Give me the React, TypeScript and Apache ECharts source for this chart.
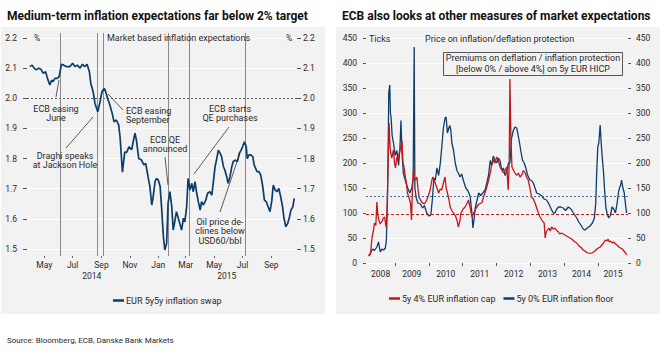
import React, { useEffect, useRef } from 'react';
import * as echarts from 'echarts';

// ---------- Left chart: EUR 5y5y inflation swap ----------
const swapDates = [
  '2014-03-31','2014-04-05','2014-04-09','2014-04-14','2014-04-19','2014-04-24','2014-04-29','2014-05-04','2014-05-08','2014-05-13','2014-05-17','2014-05-20','2014-05-24','2014-05-29','2014-06-02',
  '2014-06-07','2014-06-12','2014-06-18','2014-06-25','2014-07-01','2014-07-06','2014-07-11','2014-07-17','2014-07-22','2014-07-27','2014-08-01','2014-08-06','2014-08-09','2014-08-14','2014-08-18','2014-08-24','2014-08-29',
  '2014-09-02','2014-09-07','2014-09-10','2014-09-14','2014-09-19','2014-09-24','2014-09-28','2014-10-03','2014-10-08','2014-10-11','2014-10-16','2014-10-21','2014-10-25','2014-10-30',
  '2014-11-05','2014-11-08','2014-11-12','2014-11-15','2014-11-20','2014-11-26','2014-12-01','2014-12-05','2014-12-10','2014-12-14','2014-12-18','2014-12-21','2014-12-25','2014-12-28',
  '2015-01-01','2015-01-05','2015-01-08','2015-01-12','2015-01-15','2015-01-19','2015-01-22','2015-01-26','2015-01-30',
  '2015-02-02','2015-02-06','2015-02-09','2015-02-13','2015-02-17','2015-02-20','2015-02-24','2015-02-27',
  '2015-03-03','2015-03-06','2015-03-10','2015-03-14','2015-03-17','2015-03-21','2015-03-24','2015-03-28',
  '2015-04-01','2015-04-04','2015-04-08','2015-04-13','2015-04-17','2015-04-22','2015-04-26','2015-04-29',
  '2015-05-03','2015-05-06','2015-05-10','2015-05-14','2015-05-17','2015-05-21','2015-05-24','2015-05-28','2015-05-31',
  '2015-06-04','2015-06-08','2015-06-11','2015-06-16','2015-06-20','2015-06-24','2015-06-28',
  '2015-07-01','2015-07-05','2015-07-09','2015-07-11','2015-07-15','2015-07-19','2015-07-23','2015-07-26',
  '2015-08-01','2015-08-05','2015-08-09','2015-08-13','2015-08-17','2015-08-21','2015-08-25','2015-08-29',
  '2015-09-02','2015-09-05','2015-09-09','2015-09-13','2015-09-17','2015-09-21','2015-09-25','2015-09-28',
  '2015-10-02','2015-10-06','2015-10-10','2015-10-13','2015-10-17','2015-10-20',
];
const swapValues = [
  2.105,2.11,2.10,2.094,2.10,2.096,2.083,2.088,2.066,2.044,2.06,2.055,2.066,2.066,2.072,
  2.113,2.11,2.105,2.105,2.116,2.105,2.11,2.10,2.113,2.105,2.113,2.088,2.05,2.022,1.983,1.955,1.989,
  2.022,2.033,2.022,2.0,1.978,1.95,1.922,1.928,1.911,1.87,1.755,1.822,1.82,1.839,
  1.83,1.855,1.884,1.862,1.80,1.795,1.779,1.784,1.74,1.707,1.646,1.673,1.723,1.734,
  1.729,1.707,1.64,1.541,1.497,1.519,1.651,1.69,1.64,
  1.563,1.596,1.624,1.602,1.58,1.563,1.602,1.59,
  1.64,1.734,1.696,1.718,1.69,1.723,1.69,1.657,
  1.629,1.657,1.646,1.662,1.685,1.69,1.679,1.718,
  1.773,1.795,1.828,1.817,1.806,1.773,1.762,1.74,1.718,
  1.74,1.773,1.79,1.795,1.79,1.817,1.828,
  1.839,1.856,1.839,1.80,1.812,1.812,1.806,1.779,
  1.757,1.757,1.746,1.712,1.662,1.657,1.64,1.624,
  1.662,1.712,1.696,1.69,1.701,1.673,1.64,1.602,
  1.574,1.585,1.607,1.629,1.64,1.668,
];
const eventDates = ['2014-06-05','2014-08-22','2014-09-04','2015-01-22','2015-03-09','2015-07-06'];
const leftTicks = [1.5, 1.6, 1.7, 1.8, 1.9, 2.0, 2.1, 2.2];
const monthTicks = ['2014-05-01','2014-07-01','2014-09-01','2014-11-01','2015-01-01','2015-03-01','2015-05-01','2015-07-01','2015-09-01'];
const yearLabelDates = ['2014-08-11','2015-05-28'];
const targetLevel = 2.0;

// ---------- Right chart: cap / floor premiums (decimal year, ticks) ----------
const capSeries: [number, number][] = [
  [2008.23,14],[2008.28,18],[2008.33,52],[2008.37,65],[2008.40,80],[2008.44,75],[2008.47,122],[2008.50,95],[2008.53,86],[2008.57,78],
  [2008.62,83],[2008.66,90],[2008.70,92],[2008.74,72],[2008.77,100],[2008.80,200],[2008.83,280],[2008.86,230],[2008.88,220],[2008.91,210],
  [2008.96,226],[2008.99,200],[2009.02,190],[2009.06,212],[2009.09,205],[2009.13,220],[2009.17,230],[2009.21,245],[2009.24,200],[2009.27,192],
  [2009.31,172],[2009.34,160],[2009.37,140],[2009.42,130],[2009.46,120],[2009.49,86],[2009.52,150],[2009.55,186],[2009.58,170],[2009.61,166],
  [2009.65,172],[2009.68,150],[2009.71,132],[2009.76,125],[2009.82,120],[2009.87,118],[2009.94,126],[2009.99,135],[2010.04,146],[2010.09,165],
  [2010.12,172],[2010.16,165],[2010.19,160],[2010.24,150],[2010.29,140],[2010.34,148],[2010.38,146],[2010.43,160],[2010.48,172],[2010.51,150],
  [2010.55,140],[2010.60,125],[2010.63,112],[2010.68,105],[2010.73,100],[2010.78,95],[2010.83,86],[2010.87,72],[2010.92,85],[2010.95,100],
  [2011.01,108],[2011.07,112],[2011.12,118],[2011.17,126],[2011.22,110],[2011.27,92],[2011.32,100],[2011.36,105],[2011.41,112],[2011.48,118],
  [2011.56,120],[2011.63,135],[2011.71,152],[2011.76,165],[2011.81,180],[2011.85,195],[2011.90,206],[2011.95,200],[2012.00,212],[2012.05,205],
  [2012.10,192],[2012.15,186],[2012.20,180],[2012.25,185],[2012.30,192],[2012.34,146],[2012.37,200],[2012.39,368],[2012.42,250],[2012.45,192],
  [2012.50,185],[2012.54,180],[2012.59,175],[2012.64,180],[2012.69,172],[2012.74,176],[2012.79,185],[2012.84,180],[2012.88,172],[2012.93,166],
  [2012.98,150],[2013.03,132],[2013.08,128],[2013.13,120],[2013.18,110],[2013.23,100],[2013.28,92],[2013.33,86],[2013.37,82],[2013.40,80],
  [2013.43,50],[2013.46,62],[2013.50,66],[2013.54,70],[2013.58,64],[2013.62,72],[2013.67,68],[2013.72,70],[2013.77,65],[2013.82,62],
  [2013.86,58],[2013.91,60],[2013.96,58],[2014.01,56],[2014.06,54],[2014.11,52],[2014.16,50],[2014.21,48],[2014.26,45],[2014.31,42],
  [2014.36,40],[2014.40,36],[2014.45,33],[2014.50,30],[2014.55,26],[2014.60,24],[2014.65,21],[2014.70,20],[2014.75,19],[2014.80,20],
  [2014.85,22],[2014.90,24],[2014.95,28],[2015.00,30],[2015.05,32],[2015.10,36],[2015.15,40],[2015.20,46],[2015.25,44],[2015.28,48],
  [2015.32,42],[2015.36,44],[2015.40,40],[2015.45,42],[2015.50,38],[2015.55,36],[2015.60,32],[2015.65,30],[2015.70,28],[2015.75,24],
  [2015.80,20],[2015.83,16],
];
const floorSeries: [number, number][] = [
  [2008.23,14],[2008.28,20],[2008.35,28],[2008.40,25],[2008.47,32],[2008.52,42],[2008.57,22],[2008.62,28],[2008.67,26],[2008.72,30],
  [2008.75,45],[2008.78,120],[2008.80,200],[2008.82,340],[2008.85,356],[2008.87,300],[2008.89,290],[2008.92,255],[2008.96,240],[2009.01,215],
  [2009.06,225],[2009.11,195],[2009.15,230],[2009.18,285],[2009.21,220],[2009.25,180],[2009.29,170],[2009.33,160],[2009.38,150],[2009.44,140],
  [2009.50,150],[2009.54,170],[2009.57,432],[2009.59,150],[2009.63,130],[2009.68,120],[2009.75,118],[2009.82,110],[2009.87,115],[2009.94,100],
  [2010.01,94],[2010.06,96],[2010.11,130],[2010.15,170],[2010.19,165],[2010.24,190],[2010.29,175],[2010.34,200],[2010.38,230],[2010.43,270],
  [2010.48,290],[2010.51,292],[2010.55,260],[2010.59,270],[2010.62,275],[2010.65,265],[2010.68,240],[2010.73,225],[2010.78,200],[2010.83,185],
  [2010.87,180],[2010.92,172],[2010.97,178],[2011.02,165],[2011.09,150],[2011.15,145],[2011.22,133],[2011.27,100],[2011.30,70],[2011.34,90],
  [2011.37,110],[2011.42,125],[2011.47,140],[2011.53,135],[2011.59,140],[2011.66,146],[2011.71,160],[2011.76,175],[2011.81,205],[2011.85,195],
  [2011.90,214],[2011.95,205],[2012.00,200],[2012.05,210],[2012.10,205],[2012.15,185],[2012.20,190],[2012.25,175],[2012.30,185],[2012.35,200],
  [2012.39,200],[2012.44,250],[2012.49,265],[2012.54,272],[2012.59,270],[2012.62,260],[2012.66,246],[2012.71,225],[2012.76,206],[2012.81,200],
  [2012.86,190],[2012.91,176],[2012.98,166],[2013.03,165],[2013.08,160],[2013.13,150],[2013.18,140],[2013.25,138],[2013.33,134],[2013.40,128],
  [2013.47,126],[2013.54,118],[2013.62,106],[2013.67,100],[2013.72,100],[2013.77,108],[2013.82,112],[2013.89,112],[2013.96,110],[2014.03,105],
  [2014.11,112],[2014.19,108],[2014.26,100],[2014.31,95],[2014.36,90],[2014.42,82],[2014.50,74],[2014.55,68],[2014.60,66],[2014.67,70],
  [2014.75,74],[2014.82,80],[2014.88,90],[2014.92,120],[2014.95,186],[2014.98,232],[2015.01,240],[2015.05,276],[2015.08,240],[2015.11,212],
  [2015.15,180],[2015.18,146],[2015.22,110],[2015.26,98],[2015.30,90],[2015.35,95],[2015.40,112],[2015.45,108],[2015.50,100],[2015.55,120],
  [2015.60,146],[2015.65,155],[2015.68,166],[2015.72,150],[2015.76,140],[2015.80,115],[2015.83,100],
];
const capThreshold = 97;
const floorThreshold = 133;
const yearTicks = [2009, 2010, 2011, 2012, 2013, 2014, 2015];
const yearLabelPos = [2008.58, 2009.5, 2010.5, 2011.5, 2012.5, 2013.5, 2014.5, 2015.43];

const SWAP_NAME = 'EUR 5y5y inflation swap';
const CAP_NAME = '5y 4% EUR inflation cap';
const FLOOR_NAME = '5y 0% EUR inflation floor';

const BLUE = '#0d3d68';
const RED = '#c4161c';
const TXT = '#2a2a2a';
const FONT = 'Roboto, "Noto Sans", sans-serif';
const MONTHS = ['Jan','Feb','Mar','Apr','May','Jun','Jul','Aug','Sep','Oct','Nov','Dec'];

const ts = (d: string) => Date.parse(d + 'T00:00:00Z');

function txt(x: number, y: number, text: string, extra: any = {}) {
  return {
    type: 'text', x, y, z: 50, silent: true,
    style: {
      text, fontFamily: FONT, fontSize: 9, fill: TXT,
      align: 'left', verticalAlign: 'middle', lineHeight: 9.5,
      ...extra,
    },
  };
}
function pline(x1: number, y1: number, x2: number, y2: number) {
  return { type: 'line', z: 50, silent: true, shape: { x1, y1, x2, y2 }, style: { stroke: '#333', lineWidth: 0.8 } };
}

export default function App() {
  const ref = useRef<HTMLDivElement>(null);
  useEffect(() => {
    document.body.style.margin = '0';
    const chart = echarts.init(ref.current!, null, { renderer: 'svg' });

    const leftMin = 1.5 - 7 / 301.4;
    const leftMax = 2.2 + 5 / 301.4;
    const xMinL = ts('2014-03-25');
    const xMaxL = ts('2015-10-26');

    const labelStyle = { fontFamily: FONT, fontSize: 8.5, color: TXT };

    const gridLinesLeft = leftTicks.map((v) => ({ yAxis: v, lineStyle: { color: '#ffffff', width: 1, type: 'solid' } }));

    const option: any = {
      animation: false,
      backgroundColor: '#ffffff',
      textStyle: { fontFamily: FONT },
      graphic: [
        { type: 'rect', z: -10, silent: true, shape: { x: 1, y: 27, width: 324, height: 287 }, style: { fill: '#f2f2f2' } },
        { type: 'rect', z: -10, silent: true, shape: { x: 336, y: 27, width: 324, height: 287 }, style: { fill: '#f2f2f2' } },
        txt(7, 16, 'Medium-term inflation expectations far below 2% target', { fontSize: 12, fontWeight: 'bold', fill: '#111' }),
        txt(342, 16, 'ECB also looks at other measures of market expectations', { fontSize: 12, fontWeight: 'bold', fill: '#111' }),
        txt(7, 340, 'Source: Bloomberg, ECB, Danske Bank Markets', { fontSize: 8 }),
        // left chart texts
        txt(34, 38, '%', { fontSize: 8.5 }),
        txt(286, 38, '%', { fontSize: 8.5 }),
        txt(107, 38, 'Market based inflation expectations'),
        txt(56, 104, 'ECB easing\nJune', { align: 'center', verticalAlign: 'top' }),
        txt(65, 151, 'Draghi speaks\nat Jackson Hole', { align: 'center', verticalAlign: 'top' }),
        txt(126, 106, 'ECB easing\nSeptember', { verticalAlign: 'top' }),
        txt(165, 135, 'ECB QE\nannounced', { align: 'center', verticalAlign: 'top' }),
        txt(230, 104, 'ECB starts\nQE purchases', { align: 'center', verticalAlign: 'top' }),
        txt(220, 217, 'Oil price de-\nclines below\nUSD60/bbl', { align: 'center', verticalAlign: 'top' }),
        pline(56, 97, 59, 80),
        pline(66, 148, 93, 117),
        pline(108, 94, 123, 110),
        pline(165, 157, 168, 185),
        pline(229, 127, 194, 174),
        pline(220, 212, 240, 153),
        // right chart texts
        txt(369, 39, 'Ticks'),
        txt(425, 39, 'Price on inflation/deflation protection'),
        { type: 'rect', z: 40, silent: true, shape: { x: 443.5, y: 52.5, width: 179, height: 23 }, style: { fill: '#f2f2f2', stroke: '#555', lineWidth: 1 } },
        txt(533, 58, 'Premiums on deflation / inflation protection', { align: 'center' }),
        txt(533, 69, '[below 0% / above 4%] on 5y EUR HICP', { align: 'center' }),
      ],
      legend: [
        {
          data: [SWAP_NAME], left: 108, top: 291, icon: 'rect', itemWidth: 11, itemHeight: 2.5,
          textStyle: { ...labelStyle, fontSize: 9, padding: [0, 0, 0, -3] }, selectedMode: false,
        },
        {
          data: [CAP_NAME, FLOOR_NAME], left: 384, top: 289, icon: 'rect', itemWidth: 11, itemHeight: 2.5, itemGap: 8,
          textStyle: { ...labelStyle, fontSize: 9, padding: [0, 0, 0, -3] }, selectedMode: false,
        },
      ],
      grid: [
        { left: 27, top: 33, width: 270, height: 223 },
        { left: 366, top: 38, width: 262, height: 225 },
      ],
      xAxis: [
        {
          gridIndex: 0, type: 'value', min: xMinL, max: xMaxL,
          axisLine: { show: false }, splitLine: { show: false },
          axisTick: { show: true, customValues: monthTicks.map(ts), length: 2, lineStyle: { color: '#666' } },
          axisLabel: {
            ...labelStyle, margin: 4, customValues: monthTicks.map(ts),
            formatter: (v: number) => MONTHS[new Date(v).getUTCMonth()],
          },
        },
        {
          gridIndex: 0, type: 'value', min: xMinL, max: xMaxL, position: 'bottom', offset: 11,
          axisLine: { show: false }, splitLine: { show: false }, axisTick: { show: false },
          axisLabel: {
            ...labelStyle, margin: 4, customValues: yearLabelDates.map(ts),
            formatter: (v: number) => String(new Date(v).getUTCFullYear()),
          },
        },
        {
          gridIndex: 1, type: 'value', min: 2008.15, max: 2015.87,
          axisLine: { show: false }, splitLine: { show: false },
          axisTick: { show: true, customValues: yearTicks, length: 3, lineStyle: { color: '#555' } },
          axisLabel: {
            ...labelStyle, margin: 6, customValues: yearLabelPos,
            formatter: (v: number) => String(Math.floor(v)),
          },
        },
      ],
      yAxis: [
        {
          gridIndex: 0, type: 'value', position: 'left', min: leftMin, max: leftMax,
          axisLine: { show: false }, splitLine: { show: false },
          axisTick: { show: true, customValues: leftTicks, length: 4, lineStyle: { color: '#555' } },
          axisLabel: { ...labelStyle, margin: 10, customValues: leftTicks, formatter: (v: number) => v.toFixed(1) },
        },
        {
          gridIndex: 0, type: 'value', position: 'right', min: leftMin, max: leftMax,
          axisLine: { show: false }, splitLine: { show: false },
          axisTick: { show: true, customValues: leftTicks, length: 4, lineStyle: { color: '#555' } },
          axisLabel: { ...labelStyle, margin: 6, customValues: leftTicks, formatter: (v: number) => v.toFixed(1) },
        },
        {
          gridIndex: 1, type: 'value', position: 'left', min: 0, max: 450, interval: 50,
          axisLine: { show: false }, splitLine: { show: true, lineStyle: { color: '#ffffff', width: 1 } },
          axisTick: { show: true, length: 3, lineStyle: { color: '#555' } },
          axisLabel: { ...labelStyle, margin: 9 },
        },
        {
          gridIndex: 1, type: 'value', position: 'right', min: 0, max: 450, interval: 50,
          axisLine: { show: false }, splitLine: { show: false },
          axisTick: { show: true, length: 3, lineStyle: { color: '#555' } },
          axisLabel: { ...labelStyle, margin: 8 },
        },
      ],
      series: [
        {
          name: SWAP_NAME, type: 'line', xAxisIndex: 0, yAxisIndex: 0, showSymbol: false,
          lineStyle: { color: BLUE, width: 1.7 }, itemStyle: { color: BLUE }, z: 5,
          data: swapDates.map((d, i) => [ts(d), swapValues[i]]),
          markLine: {
            silent: true, symbol: ['none', 'none'], label: { show: false }, z: 1,
            data: [
              ...gridLinesLeft,
              { yAxis: targetLevel, lineStyle: { color: '#555', width: 1, type: [2, 2] } },
              ...eventDates.map((d) => ({ xAxis: ts(d), lineStyle: { color: '#8a8a8a', width: 1, type: 'solid' } })),
            ],
          },
        },
        {
          name: FLOOR_NAME, type: 'line', xAxisIndex: 2, yAxisIndex: 2, showSymbol: false,
          lineStyle: { color: BLUE, width: 1.3 }, itemStyle: { color: BLUE }, z: 3,
          data: floorSeries,
          markLine: {
            silent: true, symbol: ['none', 'none'], label: { show: false },
            data: [{ yAxis: floorThreshold, lineStyle: { color: '#3f6d97', width: 1, type: [2, 2] } }],
          },
        },
        {
          name: CAP_NAME, type: 'line', xAxisIndex: 2, yAxisIndex: 2, showSymbol: false,
          lineStyle: { color: RED, width: 1.3 }, itemStyle: { color: RED }, z: 4,
          data: capSeries,
          markLine: {
            silent: true, symbol: ['none', 'none'], label: { show: false },
            data: [{ yAxis: capThreshold, lineStyle: { color: RED, width: 1, type: [3, 2] } }],
          },
        },
      ],
    };
    chart.setOption(option);
    return () => chart.dispose();
  }, []);
  return <div ref={ref} style={{ position: 'absolute', left: 0, top: 0, width: 670, height: 353 }} />;
}
